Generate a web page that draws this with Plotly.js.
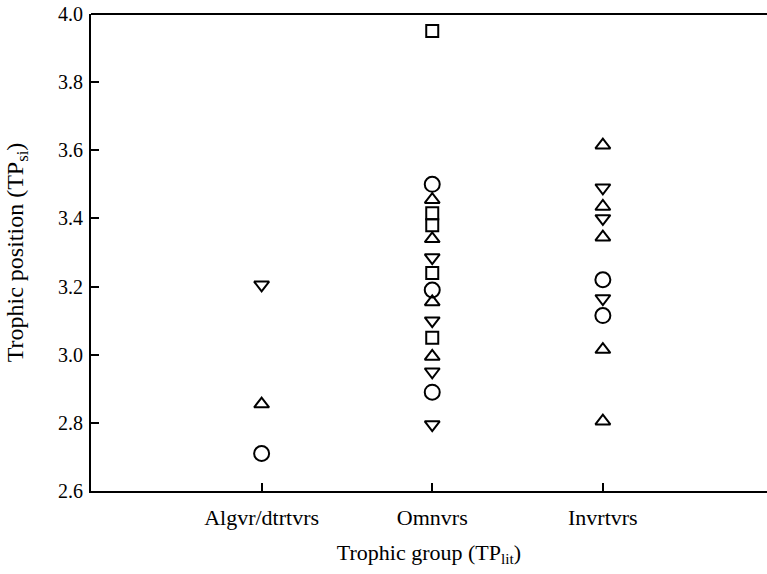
<!DOCTYPE html>
<html>
<head>
<meta charset="utf-8">
<script src="https://cdn.plot.ly/plotly-3.0.1.min.js"></script>
<style>html,body{margin:0;padding:0;background:#fff;}#chart{width:767px;height:574px;}</style>
</head>
<body>
<div id="chart"></div>
<script>
// Categories (positions 1,2,3 on the x axis)
const categories = ["Algvr/dtrtvrs", "Omnvrs", "Invrtvrs"];
const yTicks = [2.6, 2.8, 3.0, 3.2, 3.4, 3.6, 3.8, 4.0];

// Values per group and symbol
const algCircle = [2.71];
const algTriUp = [2.855];
const algTriDown = [3.205];
const algSquare = [];

const omnCircle = [3.50, 3.19, 2.89];
const omnTriUp = [3.455, 3.34, 3.155, 2.995];
const omnTriDown = [3.285, 3.10, 2.95, 2.795];
const omnSquare = [3.95, 3.415, 3.38, 3.24, 3.05];

const invCircle = [3.22, 3.115];
const invTriUp = [3.615, 3.435, 3.345, 3.015, 2.805];
const invTriDown = [3.49, 3.40, 3.165];
const invSquare = [];

function xs(idx, arr) { return arr.map(() => idx); }

function series(symbol, a, o, i, size) {
  return {
    type: 'scatter', mode: 'markers',
    x: [].concat(xs(1, a), xs(2, o), xs(3, i)),
    y: [].concat(a, o, i),
    marker: {symbol: symbol, size: size, color: '#000', line: {color: '#000', width: 2}},
    showlegend: false, hoverinfo: 'y'
  };
}

const data = [
  series('circle-open', algCircle, omnCircle, invCircle, 15),
  series('triangle-up-open', algTriUp, omnTriUp, invTriUp, 13),
  series('triangle-down-open', algTriDown, omnTriDown, invTriDown, 13),
  series('square-open', algSquare, omnSquare, invSquare, 12)
];

const fam = '"Liberation Serif", "Times New Roman", serif';
const yTickFont = {family: fam, size: 20, color: '#000'};
const xTickFont = {family: fam, size: 22, color: '#000'};
const titleFont = {family: fam, size: 22, color: '#000'};
const yTitleFont = {family: fam, size: 24, color: '#000'};

const layout = {
  width: 767, height: 574,
  margin: {l: 91, r: 0, t: 14, b: 83, pad: 0},
  paper_bgcolor: '#fff', plot_bgcolor: '#fff',
  font: titleFont,
  showlegend: false,
  xaxis: {
    range: [0, 3.962],
    tickvals: [1, 2, 3], ticktext: categories,
    ticks: 'inside', ticklen: 8, tickwidth: 2, tickcolor: '#000',
    showline: true, linewidth: 2, linecolor: '#000',
    showgrid: false, zeroline: false,
    tickfont: xTickFont, ticklabelstandoff: 6,
    title: {text: 'Trophic group (TP<sub>lit</sub>)', font: titleFont, standoff: 15}
  },
  yaxis: {
    range: [2.6, 4.0],
    tickvals: yTicks, ticktext: yTicks.map(v => v.toFixed(1)),
    ticks: 'inside', ticklen: 8, tickwidth: 2, tickcolor: '#000',
    showline: true, linewidth: 2, linecolor: '#000',
    showgrid: false, zeroline: false,
    tickfont: yTickFont, ticklabelstandoff: 2,
    title: {text: 'Trophic position (TP<sub>si</sub>)', font: yTitleFont, standoff: 28}
  },
  shapes: [{type: 'line', xref: 'paper', yref: 'paper', x0: 0, x1: 1, y0: 1, y1: 1, line: {color: '#000', width: 2}}]
};

Plotly.newPlot('chart', data, layout, {displayModeBar: false, staticPlot: true});
</script>
</body>
</html>
